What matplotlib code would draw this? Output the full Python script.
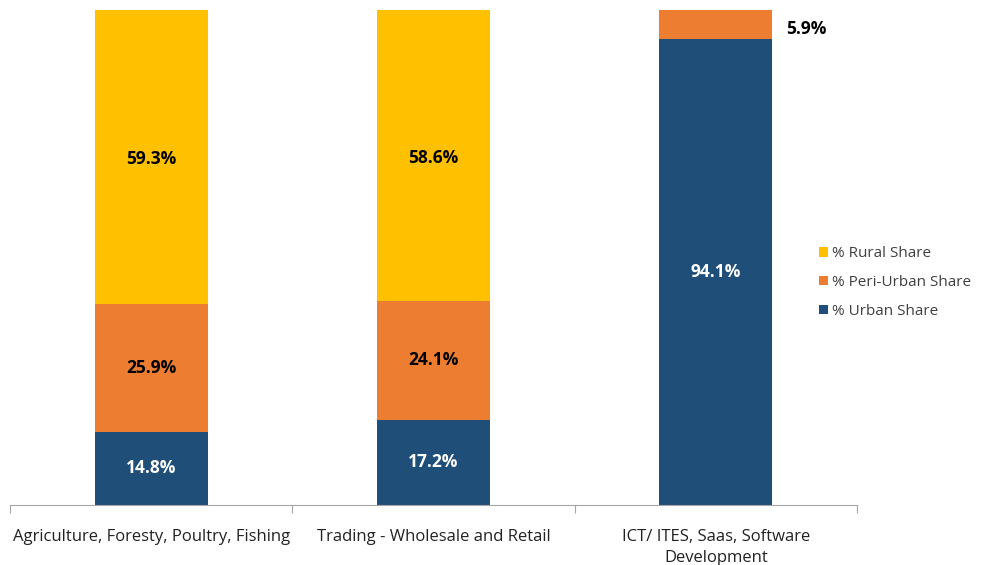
import matplotlib.pyplot as plt
import numpy as np

plt.rcParams["font.family"] = ["Open Sans", "DejaVu Sans"]

categories = ["Agriculture, Foresty, Poultry, Fishing",
              "Trading - Wholesale and Retail",
              "ICT/ ITES, Saas, Software\nDevelopment"]
urban = [14.8, 17.2, 94.1]
peri_urban = [25.9, 24.1, 5.9]
rural = [59.3, 58.6, 0.0]

colors = {"urban": "#1F4E79", "peri": "#ED7D31", "rural": "#FFC000"}

fig = plt.figure(figsize=(9.89, 5.65), dpi=100)
ax = fig.add_axes([10 / 989, 60 / 565, 847 / 989, 495 / 565])

x = np.arange(len(categories))
width = 0.4

b_urban = ax.bar(x, urban, width, color=colors["urban"], label="% Urban Share")
b_peri = ax.bar(x, peri_urban, width, bottom=urban, color=colors["peri"],
                label="% Peri-Urban Share")
bottom2 = np.array(urban) + np.array(peri_urban)
b_rural = ax.bar(x, rural, width, bottom=bottom2, color=colors["rural"],
                 label="% Rural Share")

# -----------------------------
# Segment labels
# -----------------------------
for i in range(len(categories)):
    ax.text(x[i], urban[i] / 2, f"{urban[i]:.1f}%", ha="center", va="center",
            color="white", fontsize=12.5, fontweight="bold")
    if i < 2:
        ax.text(x[i], urban[i] + peri_urban[i] / 2, f"{peri_urban[i]:.1f}%",
                ha="center", va="center", color="black", fontsize=12.5,
                fontweight="bold")
        ax.text(x[i], bottom2[i] + rural[i] / 2 - 0.5, f"{rural[i]:.1f}%",
                ha="center", va="center", color="black", fontsize=12.5,
                fontweight="bold")
    else:
        ax.text(x[i] + 0.32, urban[i] + peri_urban[i] / 2 - 0.8,
                f"{peri_urban[i]:.1f}%", ha="center", va="center",
                color="black", fontsize=12.5, fontweight="bold")

ax.set_xlim(-0.5, 2.5)
ax.set_ylim(0, 100)

for s in ["top", "right", "left"]:
    ax.spines[s].set_visible(False)
ax.spines["bottom"].set_color("#A6A6A6")
ax.set_yticks([])

ax.set_xticks([-0.5, 0.5, 1.5, 2.5])
ax.set_xticklabels([])
ax.tick_params(axis="x", length=6, color="#A6A6A6")
ax.set_xticks(x, minor=True)
ax.set_xticklabels(categories, minor=True, fontsize=12, color="#222222",
                   linespacing=1.45)
ax.tick_params(axis="x", which="minor", length=0, pad=17)

handles = [b_rural, b_peri, b_urban]
ax.legend(handles, [h.get_label() for h in handles], loc="center left",
          bbox_to_anchor=(963 / 989 - 0.16, 0.5), bbox_transform=fig.transFigure,
          frameon=False, fontsize=11, handlelength=0.6, handleheight=0.6,
          handletextpad=0.3, labelspacing=0.9, labelcolor="#404040")

fig.savefig("out.png", dpi=100)
